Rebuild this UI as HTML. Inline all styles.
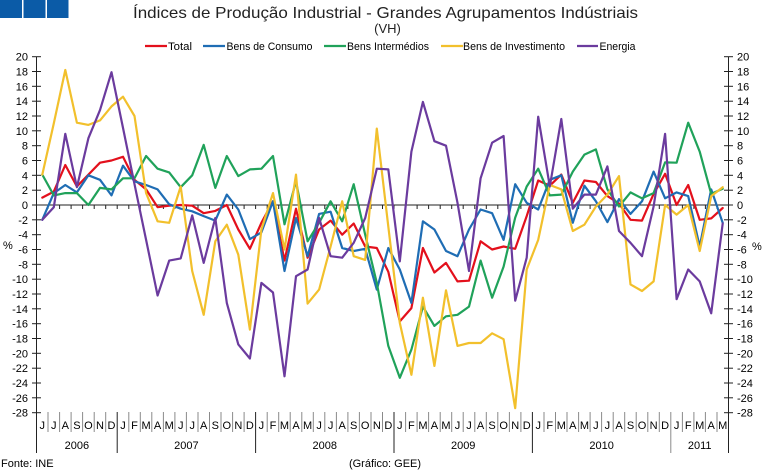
<!DOCTYPE html>
<html><head><meta charset="utf-8"><style>
html,body{margin:0;padding:0;background:#fff;}
svg{display:block;font-family:"Liberation Sans",Arial,sans-serif;}
</style></head><body>
<svg width="774" height="472" viewBox="0 0 774 472" xmlns="http://www.w3.org/2000/svg">
<rect width="774" height="472" fill="#fff"/>
<rect x="0" y="0" width="22" height="18" fill="#0b5ba7"/>
<rect x="23.5" y="0" width="22" height="18" fill="#0b5ba7"/>
<rect x="47" y="0" width="21.5" height="18" fill="#0b5ba7"/>
<text x="385.5" y="18" font-size="16" text-anchor="middle" fill="#222" textLength="505" lengthAdjust="spacingAndGlyphs">Índices de Produção Industrial - Grandes Agrupamentos Indústriais</text>
<text x="387.5" y="33" font-size="13" text-anchor="middle" fill="#222">(VH)</text>
<g font-size="11" fill="#000">
<line x1="145" y1="46" x2="167" y2="46" stroke="#e3101c" stroke-width="2.2"/><text x="168" y="50" textLength="24" lengthAdjust="spacingAndGlyphs">Total</text>
<line x1="203" y1="46" x2="225" y2="46" stroke="#1f6db4" stroke-width="2.2"/><text x="226.5" y="50" textLength="86" lengthAdjust="spacingAndGlyphs">Bens de Consumo</text>
<line x1="324" y1="46" x2="346" y2="46" stroke="#20a25a" stroke-width="2.2"/><text x="347" y="50" textLength="82" lengthAdjust="spacingAndGlyphs">Bens Intermédios</text>
<line x1="441" y1="46" x2="463" y2="46" stroke="#f2c02c" stroke-width="2.2"/><text x="463" y="50" textLength="102" lengthAdjust="spacingAndGlyphs">Bens de Investimento</text>
<line x1="577" y1="46" x2="598" y2="46" stroke="#6b3b9e" stroke-width="2.2"/><text x="599.5" y="50" textLength="36" lengthAdjust="spacingAndGlyphs">Energia</text>
</g>
<!-- axes -->
<g stroke="#222" stroke-width="1">
<line x1="36.5" y1="56.7" x2="36.5" y2="453"/>
<line x1="728.5" y1="56.7" x2="728.5" y2="453"/>
<line x1="36.5" y1="205" x2="728.5" y2="205"/>
</g>
<g stroke="#222" stroke-width="1" id="yticks">
<line x1="32" y1="56.7" x2="41" y2="56.7"/><line x1="724" y1="56.7" x2="733" y2="56.7"/>
<line x1="32" y1="71.5" x2="41" y2="71.5"/><line x1="724" y1="71.5" x2="733" y2="71.5"/>
<line x1="32" y1="86.3" x2="41" y2="86.3"/><line x1="724" y1="86.3" x2="733" y2="86.3"/>
<line x1="32" y1="101.2" x2="41" y2="101.2"/><line x1="724" y1="101.2" x2="733" y2="101.2"/>
<line x1="32" y1="116" x2="41" y2="116"/><line x1="724" y1="116" x2="733" y2="116"/>
<line x1="32" y1="130.8" x2="41" y2="130.8"/><line x1="724" y1="130.8" x2="733" y2="130.8"/>
<line x1="32" y1="145.7" x2="41" y2="145.7"/><line x1="724" y1="145.7" x2="733" y2="145.7"/>
<line x1="32" y1="160.5" x2="41" y2="160.5"/><line x1="724" y1="160.5" x2="733" y2="160.5"/>
<line x1="32" y1="175.3" x2="41" y2="175.3"/><line x1="724" y1="175.3" x2="733" y2="175.3"/>
<line x1="32" y1="190.2" x2="41" y2="190.2"/><line x1="724" y1="190.2" x2="733" y2="190.2"/>
<line x1="32" y1="205" x2="41" y2="205"/><line x1="724" y1="205" x2="733" y2="205"/>
<line x1="32" y1="219.8" x2="41" y2="219.8"/><line x1="724" y1="219.8" x2="733" y2="219.8"/>
<line x1="32" y1="234.7" x2="41" y2="234.7"/><line x1="724" y1="234.7" x2="733" y2="234.7"/>
<line x1="32" y1="249.5" x2="41" y2="249.5"/><line x1="724" y1="249.5" x2="733" y2="249.5"/>
<line x1="32" y1="264.3" x2="41" y2="264.3"/><line x1="724" y1="264.3" x2="733" y2="264.3"/>
<line x1="32" y1="279.2" x2="41" y2="279.2"/><line x1="724" y1="279.2" x2="733" y2="279.2"/>
<line x1="32" y1="294" x2="41" y2="294"/><line x1="724" y1="294" x2="733" y2="294"/>
<line x1="32" y1="308.8" x2="41" y2="308.8"/><line x1="724" y1="308.8" x2="733" y2="308.8"/>
<line x1="32" y1="323.7" x2="41" y2="323.7"/><line x1="724" y1="323.7" x2="733" y2="323.7"/>
<line x1="32" y1="338.5" x2="41" y2="338.5"/><line x1="724" y1="338.5" x2="733" y2="338.5"/>
<line x1="32" y1="353.3" x2="41" y2="353.3"/><line x1="724" y1="353.3" x2="733" y2="353.3"/>
<line x1="32" y1="368.2" x2="41" y2="368.2"/><line x1="724" y1="368.2" x2="733" y2="368.2"/>
<line x1="32" y1="383" x2="41" y2="383"/><line x1="724" y1="383" x2="733" y2="383"/>
<line x1="32" y1="397.8" x2="41" y2="397.8"/><line x1="724" y1="397.8" x2="733" y2="397.8"/>
<line x1="32" y1="412.7" x2="41" y2="412.7"/><line x1="724" y1="412.7" x2="733" y2="412.7"/>
</g>
<g font-size="11" fill="#000" text-anchor="end">
<text x="28" y="60.7">20</text><text x="28" y="75.5">18</text><text x="28" y="90.3">16</text><text x="28" y="105.2">14</text><text x="28" y="120">12</text><text x="28" y="134.8">10</text><text x="28" y="149.7">8</text><text x="28" y="164.5">6</text><text x="28" y="179.3">4</text><text x="28" y="194.2">2</text><text x="28" y="209">0</text><text x="28" y="223.8">-2</text><text x="28" y="238.7">-4</text><text x="28" y="253.5">-6</text><text x="28" y="268.3">-8</text><text x="28" y="283.2">-10</text><text x="28" y="298">-12</text><text x="28" y="312.8">-14</text><text x="28" y="327.7">-16</text><text x="28" y="342.5">-18</text><text x="28" y="357.3">-20</text><text x="28" y="372.2">-22</text><text x="28" y="387">-24</text><text x="28" y="401.8">-26</text><text x="28" y="416.7">-28</text>
</g>
<g font-size="11" fill="#000">
<text x="737" y="60.7">20</text><text x="737" y="75.5">18</text><text x="737" y="90.3">16</text><text x="737" y="105.2">14</text><text x="737" y="120">12</text><text x="737" y="134.8">10</text><text x="737" y="149.7">8</text><text x="737" y="164.5">6</text><text x="737" y="179.3">4</text><text x="737" y="194.2">2</text><text x="737" y="209">0</text><text x="737" y="223.8">-2</text><text x="737" y="238.7">-4</text><text x="737" y="253.5">-6</text><text x="737" y="268.3">-8</text><text x="737" y="283.2">-10</text><text x="737" y="298">-12</text><text x="737" y="312.8">-14</text><text x="737" y="327.7">-16</text><text x="737" y="342.5">-18</text><text x="737" y="357.3">-20</text><text x="737" y="372.2">-22</text><text x="737" y="387">-24</text><text x="737" y="401.8">-26</text><text x="737" y="416.7">-28</text>
<text x="3" y="249">%</text>
<text x="752" y="250">%</text>
</g>
<!-- x ticks on zero line -->
<path stroke="#222" stroke-width="1" fill="none" d="M48 205v4M59.6 205v4M71.1 205v4M82.6 205v4M94.2 205v4M105.7 205v4M117.2 205v4M128.8 205v4M140.3 205v4M151.8 205v4M163.4 205v4M174.9 205v4M186.4 205v4M198 205v4M209.5 205v4M221 205v4M232.6 205v4M244.1 205v4M255.6 205v4M267.2 205v4M278.7 205v4M290.2 205v4M301.8 205v4M313.3 205v4M324.8 205v4M336.4 205v4M347.9 205v4M359.4 205v4M371 205v4M382.5 205v4M394 205v4M405.6 205v4M417.1 205v4M428.6 205v4M440.2 205v4M451.7 205v4M463.2 205v4M474.8 205v4M486.3 205v4M497.8 205v4M509.4 205v4M520.9 205v4M532.4 205v4M544 205v4M555.5 205v4M567 205v4M578.6 205v4M590.1 205v4M601.6 205v4M613.2 205v4M624.7 205v4M636.2 205v4M647.8 205v4M659.3 205v4M670.8 205v4M682.4 205v4M693.9 205v4M705.4 205v4M717 205v4"/>
<!-- month separators -->
<path stroke="#8a8a8a" stroke-width="1" fill="none" d="M48 412v20M59.6 412v20M71.1 412v20M82.6 412v20M94.2 412v20M105.7 412v20M128.8 412v20M140.3 412v20M151.8 412v20M163.4 412v20M174.9 412v20M186.4 412v20M198 412v20M209.5 412v20M221 412v20M232.6 412v20M244.1 412v20M267.2 412v20M278.7 412v20M290.2 412v20M301.8 412v20M313.3 412v20M324.8 412v20M336.4 412v20M347.9 412v20M359.4 412v20M371 412v20M382.5 412v20M405.6 412v20M417.1 412v20M428.6 412v20M440.2 412v20M451.7 412v20M463.2 412v20M474.8 412v20M486.3 412v20M497.8 412v20M509.4 412v20M520.9 412v20M544 412v20M555.5 412v20M567 412v20M578.6 412v20M590.1 412v20M601.6 412v20M613.2 412v20M624.7 412v20M636.2 412v20M647.8 412v20M659.3 412v20M682.4 412v20M693.9 412v20M705.4 412v20M717 412v20"/>
<path stroke="#222" stroke-width="1" fill="none" d="M117.2 412v41M255.6 412v41M394 412v41M532.4 412v41"/>
<path stroke="#8a8a8a" stroke-width="1" fill="none" d="M670.8 412v41"/>
<g font-size="11" fill="#000" text-anchor="middle">
<text x="42.3" y="429">J</text><text x="53.8" y="429">J</text><text x="65.3" y="429">A</text><text x="76.9" y="429">S</text><text x="88.4" y="429">O</text><text x="100" y="429">N</text><text x="111.5" y="429">D</text>
<text x="123" y="429">J</text><text x="134.5" y="429">F</text><text x="146.1" y="429">M</text><text x="157.6" y="429">A</text><text x="169.2" y="429">M</text><text x="180.7" y="429">J</text><text x="192.2" y="429">J</text><text x="203.7" y="429">A</text><text x="215.3" y="429">S</text><text x="226.8" y="429">O</text><text x="238.3" y="429">N</text><text x="249.9" y="429">D</text>
<text x="261.4" y="429">J</text><text x="273" y="429">F</text><text x="284.5" y="429">M</text><text x="296" y="429">A</text><text x="307.6" y="429">M</text><text x="319.1" y="429">J</text><text x="330.6" y="429">J</text><text x="342.2" y="429">A</text><text x="353.7" y="429">S</text><text x="365.2" y="429">O</text><text x="376.8" y="429">N</text><text x="388.3" y="429">D</text>
<text x="399.8" y="429">J</text><text x="411.4" y="429">F</text><text x="422.9" y="429">M</text><text x="434.4" y="429">A</text><text x="446" y="429">M</text><text x="457.5" y="429">J</text><text x="469" y="429">J</text><text x="480.6" y="429">A</text><text x="492.1" y="429">S</text><text x="503.6" y="429">O</text><text x="515.2" y="429">N</text><text x="526.7" y="429">D</text>
<text x="538.2" y="429">J</text><text x="549.8" y="429">F</text><text x="561.3" y="429">M</text><text x="572.8" y="429">A</text><text x="584.4" y="429">M</text><text x="595.9" y="429">J</text><text x="607.4" y="429">J</text><text x="619" y="429">A</text><text x="630.5" y="429">S</text><text x="642" y="429">O</text><text x="653.6" y="429">N</text><text x="665.1" y="429">D</text>
<text x="676.6" y="429">J</text><text x="688.2" y="429">F</text><text x="699.7" y="429">M</text><text x="711.2" y="429">A</text><text x="722.7" y="429">M</text>
<text x="76.9" y="449">2006</text><text x="186.4" y="449">2007</text><text x="324.8" y="449">2008</text><text x="463.2" y="449">2009</text><text x="601.6" y="449">2010</text><text x="699.7" y="449">2011</text>
</g>
<g font-size="11" fill="#000">
<text x="1" y="467">Fonte: INE</text>
<text x="385" y="467" text-anchor="middle">(Gráfico: GEE)</text>
</g>
<!-- series -->
<g fill="none" stroke-width="2.2" stroke-linejoin="round" stroke-linecap="round">
<polyline stroke="#e3101c" points="42.3,197.6 53.8,191.6 65.3,165 76.9,186.5 88.4,174.6 100,162.7 111.5,160.5 123,156.8 134.5,179.8 146.1,189.4 157.6,207.2 169.2,205.7 180.7,205 192.2,205.7 203.7,213.2 215.3,210.9 226.8,205 238.3,229.5 249.9,248.8 261.4,222.8 273,201.3 284.5,260.6 296,208.7 307.6,257.7 319.1,229.5 330.6,220.6 342.2,234.7 353.7,223.5 365.2,246.5 376.8,248 388.3,271.8 399.8,321.4 411.4,308.1 422.9,248 434.4,272.5 446,262.9 457.5,281.4 469,280.7 480.6,241.3 492.1,249.5 503.6,246.5 515.2,248.8 526.7,216.1 538.2,180.5 549.8,185.7 561.3,174.6 572.8,202.8 584.4,180.5 595.9,182 607.4,196.1 619,203.5 630.5,219.8 642,220.6 653.6,193.9 665.1,173.8 676.6,205 688.2,185 699.7,219.8 711.2,218.4 722.7,208"/>
<polyline stroke="#1f6db4" points="42.3,219.8 53.8,193.1 65.3,185 76.9,192.4 88.4,175.3 100,179.8 111.5,195.4 123,165.7 134.5,181.3 146.1,185 157.6,189.4 169.2,204.3 180.7,208.7 192.2,211.3 203.7,216.1 215.3,220.6 226.8,194.6 238.3,209.5 249.9,239.1 261.4,232.4 273,201.3 284.5,271 296,218 307.6,256.2 319.1,213.9 330.6,211.7 342.2,248 353.7,251 365.2,248.8 376.8,289.6 388.3,248 399.8,269.5 411.4,302.9 422.9,221.3 434.4,229.5 446,251 457.5,256.2 469,229.5 480.6,209.5 492.1,213.2 503.6,239.9 515.2,184.2 526.7,202.8 538.2,209.5 549.8,179.8 561.3,175.3 572.8,222.8 584.4,185.7 595.9,201.3 607.4,222.1 619,199.1 630.5,213.9 642,201.3 653.6,171.6 665.1,198.3 676.6,192.4 688.2,196.1 699.7,246.5 711.2,189.4 722.7,222.8"/>
<polyline stroke="#20a25a" points="42.3,174.6 53.8,195.4 65.3,193.1 76.9,193.1 88.4,205 100,187.9 111.5,189.4 123,178.3 134.5,178.3 146.1,156 157.6,168.7 169.2,172.4 180.7,187.2 192.2,175.3 203.7,144.9 215.3,187.9 226.8,156 238.3,176.1 249.9,169.4 261.4,168.7 273,156 284.5,224.3 296,181.3 307.6,241.3 319.1,222.8 330.6,201.3 342.2,221.3 353.7,184.2 365.2,234.7 376.8,282.9 388.3,345.9 399.8,377.8 411.4,349.6 422.9,306.6 434.4,325.9 446,316.3 457.5,314.8 469,306.6 480.6,260.6 492.1,297.7 503.6,266.6 515.2,217.6 526.7,186.5 538.2,168.7 549.8,195.4 561.3,194.6 572.8,171.6 584.4,154.6 595.9,149.4 607.4,189.4 619,206.5 630.5,192.4 642,198.3 653.6,193.1 665.1,162.4 676.6,162.7 688.2,122.7 699.7,151.6 711.2,193.9 722.7,188.7"/>
<polyline stroke="#f2c02c" points="42.3,174.6 53.8,123.4 65.3,70 76.9,122.7 88.4,124.9 100,120.4 111.5,106.4 123,96.7 134.5,116 146.1,193.1 157.6,221.3 169.2,222.8 180.7,186.5 192.2,271 203.7,314.8 215.3,241.3 226.8,224.7 238.3,254.7 249.9,329.6 261.4,229.5 273,193.1 284.5,249.5 296,174.6 307.6,303.6 319.1,289.6 330.6,246.5 342.2,201.3 353.7,256.2 365.2,259.9 376.8,128.6 388.3,226.5 399.8,322.9 411.4,374.8 422.9,297.7 434.4,365.9 446,290.3 457.5,345.9 469,343 480.6,343 492.1,333.3 503.6,339.2 515.2,408.2 526.7,269.5 538.2,239.9 549.8,185 561.3,189.4 572.8,231 584.4,224.7 595.9,206.5 607.4,194.6 619,176.1 630.5,284.4 642,291 653.6,281.4 665.1,205 676.6,214.6 688.2,205 699.7,251 711.2,196.1 722.7,187.2"/>
<polyline stroke="#6b3b9e" points="42.3,219.8 53.8,207.2 65.3,133.8 76.9,187.2 88.4,138.2 100,110.1 111.5,72.2 123,127.9 134.5,184.2 146.1,239.9 157.6,295.5 169.2,260.6 180.7,258.4 192.2,215.4 203.7,262.9 215.3,218 226.8,302.9 238.3,344.4 249.9,358.5 261.4,282.9 273,292.5 284.5,376.3 296,276.2 307.6,269.5 319.1,218 330.6,256.2 342.2,257.7 353.7,242.8 365.2,218 376.8,168.7 388.3,169.4 399.8,261.4 411.4,151.6 422.9,101.9 434.4,141.2 446,145.7 457.5,202.8 469,271 480.6,178.3 492.1,142.7 503.6,136 515.2,300.7 526.7,257.7 538.2,116.7 549.8,186.5 561.3,119 572.8,208.7 584.4,194.6 595.9,194.6 607.4,166.4 619,231 630.5,242.8 642,256.2 653.6,206.5 665.1,133.8 676.6,299.2 688.2,269.5 699.7,281.4 711.2,313.3 722.7,223.5"/>
</g>
</svg>
</body></html>
